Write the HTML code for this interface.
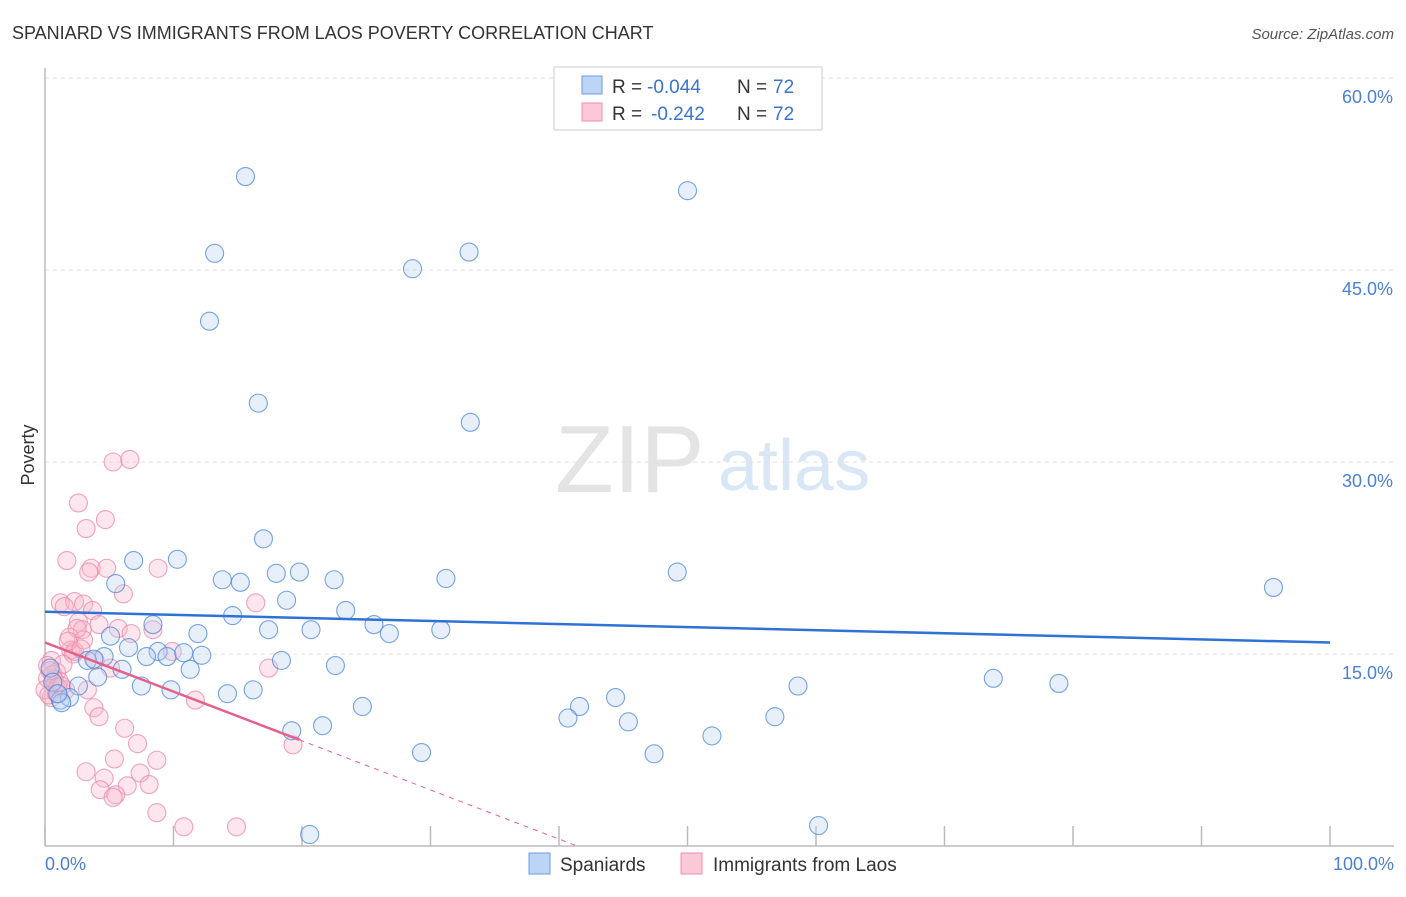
<!DOCTYPE html>
<html><head><meta charset="utf-8"><style>
body{margin:0;background:#fff;font-family:"Liberation Sans",sans-serif}
svg text{font-family:"Liberation Sans",sans-serif}
</style></head><body>
<svg width="1406" height="892" viewBox="0 0 1406 892" xmlns="http://www.w3.org/2000/svg">
<text x="12" y="39" font-size="18" fill="#333">SPANIARD VS IMMIGRANTS FROM LAOS POVERTY CORRELATION CHART</text>
<text x="1394" y="39" font-size="15" fill="#555" font-style="italic" text-anchor="end">Source: ZipAtlas.com</text>
<text x="555" y="492" font-size="96" fill="#e4e4e4" font-family="Liberation Serif">ZIP</text>
<text x="718" y="490" font-size="72" fill="#d9e6f6">atlas</text>
<g id="grid"></g>
<g id="axes"></g>
<g id="pts"></g>
<g id="trend"></g>
<text transform="translate(34,455) rotate(-90)" font-size="18" fill="#333" text-anchor="middle">Poverty</text>
<text x="45" y="870" font-size="18" fill="#4a7fd4">0.0%</text>
<text x="1394" y="870" font-size="18" fill="#4a7fd4" text-anchor="end">100.0%</text>
<g>
<rect x="554" y="67" width="268" height="63" fill="#fff" stroke="#ccc"/>
<rect x="582" y="76" width="20" height="18" fill="#bcd4f5" stroke="#6b9be0"/>
<rect x="582" y="103" width="20" height="18" fill="#fbc8d8" stroke="#ec8fae"/>
<text x="612" y="93" font-size="19" fill="#333">R =</text>
<text x="647" y="93" font-size="19" fill="#3a73d0">-0.044</text>
<text x="737" y="93" font-size="19" fill="#333">N =</text>
<text x="773" y="93" font-size="19" fill="#3a73d0">72</text>
<text x="612" y="120" font-size="19" fill="#333">R =</text>
<text x="651" y="120" font-size="19" fill="#3a73d0">-0.242</text>
<text x="737" y="120" font-size="19" fill="#333">N =</text>
<text x="773" y="120" font-size="19" fill="#3a73d0">72</text>
</g>
<g>
<rect x="529" y="853" width="21" height="21" fill="#bcd4f5" stroke="#6b9be0"/>
<text x="560" y="871" font-size="19" fill="#333">Spaniards</text>
<rect x="681" y="853" width="21" height="21" fill="#fbc8d8" stroke="#ec8fae"/>
<text x="713" y="871" font-size="19" fill="#333">Immigrants from Laos</text>
</g>
</svg>
<script>
const yTicks=[15,30,45,60];
const yTickLabels=["15.0%","30.0%","45.0%","60.0%"];
const xTicks=[0,10,20,30,40,50,60,70,80,90,100];
const spX=[15.6,50.0,13.2,28.6,33.0,12.8,16.6,33.1,17.0,10.3,6.9,5.5,13.8,15.2,18.0,19.8,22.5,31.2,49.2,95.6,18.8,23.4,14.6,8.4,25.6,26.8,17.4,20.7,30.8,5.1,11.9,6.5,8.8,7.9,9.5,10.8,12.2,4.6,3.3,3.8,6.0,11.3,18.4,22.6,4.1,7.5,9.8,14.2,16.2,2.6,44.4,58.6,73.8,78.9,1.2,1.9,1.3,24.7,41.6,40.7,45.4,56.8,21.6,19.2,51.9,29.3,47.4,20.6,60.2,0.4,0.6,1.0];
const spY=[52.3,51.2,46.3,45.1,46.4,41.0,34.6,33.1,24.0,22.4,22.3,20.5,20.8,20.6,21.3,21.4,20.8,20.9,21.4,20.2,19.2,18.4,18.0,17.3,17.3,16.6,16.9,16.9,16.9,16.4,16.6,15.5,15.2,14.8,14.8,15.1,14.9,14.8,14.5,14.6,13.8,13.8,14.5,14.1,13.2,12.5,12.2,11.9,12.2,12.5,11.6,12.5,13.1,12.7,11.4,11.6,11.2,10.9,10.9,10.0,9.7,10.1,9.4,9.0,8.6,7.3,7.2,0.9,1.6,13.9,12.8,11.9];
const laX=[5.3,6.6,2.6,4.7,3.2,1.7,3.6,4.8,8.8,3.4,6.1,1.2,2.3,3.0,16.4,1.5,3.7,2.6,4.2,5.7,2.9,6.7,8.4,1.9,3.0,2.0,2.3,9.9,0.5,3.9,0.9,5.1,17.4,0.2,0.8,1.6,3.3,0.5,11.7,3.8,4.2,6.2,7.2,19.3,5.4,8.7,3.2,7.4,4.6,4.3,6.4,8.1,5.5,5.3,8.7,10.8,14.9,0.2,0.0,0.6,1.1,0.3,2.2,1.4,0.7,2.5,1.0,0.4,1.8,2.8,0.9,1.3];
const laY=[30.0,30.2,26.8,25.5,24.8,22.3,21.7,21.7,21.7,21.4,19.7,19.0,19.1,18.9,19.0,18.7,18.4,17.5,17.3,17.0,16.9,16.6,16.9,16.3,16.1,15.3,15.2,15.2,14.5,14.5,13.6,13.9,13.9,13.1,12.6,12.2,12.2,11.6,11.4,10.8,10.1,9.2,8.0,7.9,6.8,6.7,5.8,5.7,5.3,4.4,4.7,4.8,4.0,3.8,2.6,1.5,1.5,14.1,12.2,13.4,12.9,11.8,15.0,14.2,13.0,17.0,12.4,13.7,16.0,15.4,11.9,12.5];
const spTrend=[18.3,15.9];
const laTrend=[15.9,-0.384];
const X0=45,X1=1330,Y0=846,PXPER=192/15;
const sx=v=>X0+(X1-X0)*v/100, sy=v=>Y0-v*PXPER;
const NS="http://www.w3.org/2000/svg";
function mk(t,a,p){const e=document.createElementNS(NS,t);for(const k in a)e.setAttribute(k,a[k]);document.getElementById(p).appendChild(e);return e;}
yTicks.forEach((t,i)=>{
 const l=mk('line',{x1:X0,x2:1394,y1:sy(t),y2:sy(t),stroke:'#e0e0e0','stroke-dasharray':'4,4'},'grid');
 
 
 const tx=mk('text',{x:1393,y:sy(t)+25,'font-size':18,fill:'#4a7fd4','text-anchor':'end'},'grid');
 tx.textContent=yTickLabels[i];
 
 
});
const ax=mk('line',{x1:X0,x2:X0,y1:68,y2:Y0,stroke:'#bbb','stroke-width':1.5},'axes');


const bx=mk('line',{x1:X0,x2:1394,y1:Y0,y2:Y0,stroke:'#bbb','stroke-width':1.5},'axes');


xTicks.forEach(t=>{
 const l=mk('line',{x1:sx(t),x2:sx(t),y1:826,y2:Y0,stroke:'#bbb','stroke-width':1.5},'axes');
 
 
});
function dots(xs,ys,fill,stroke,name){
 xs.forEach((x,i)=>{
  const c=mk('circle',{cx:sx(x),cy:sy(ys[i]),r:9,fill:fill,'fill-opacity':0.35,stroke:stroke,'stroke-opacity':0.75,'stroke-width':1.1},'pts');
  
  
 });
}
dots(laX,laY,'#f8b8cc','#ec86a8','laos-point');
dots(spX,spY,'#b8d0f2','#4a86dc','spaniard-point');
const t1=mk('line',{x1:sx(0),y1:sy(spTrend[0]),x2:sx(100),y2:sy(spTrend[1]),stroke:'#2f72d6','stroke-width':2.5},'trend');


const xe=19.8, xz=-laTrend[0]/laTrend[1];
const t2=mk('line',{x1:sx(0),y1:sy(laTrend[0]),x2:sx(xe),y2:sy(laTrend[0]+laTrend[1]*xe),stroke:'#e4608a','stroke-width':2.5},'trend');


const t3=mk('line',{x1:sx(xe),y1:sy(laTrend[0]+laTrend[1]*xe),x2:sx(xz),y2:sy(0),stroke:'#e4608a','stroke-width':1,'stroke-dasharray':'5,5'},'trend');


</script>
</body></html>
